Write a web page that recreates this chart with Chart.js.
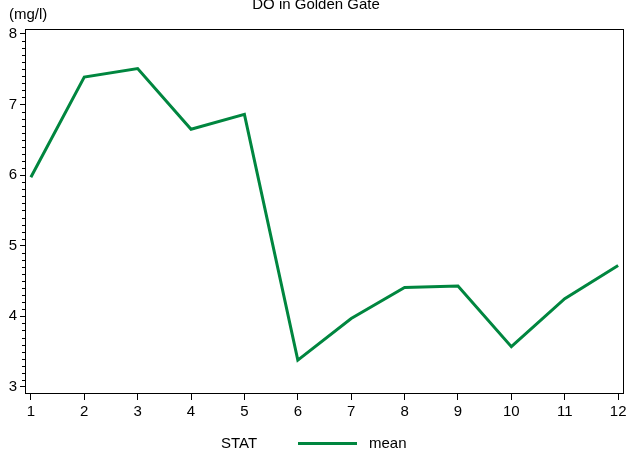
<!DOCTYPE html>
<html><head><meta charset="utf-8">
<script src="https://cdn.jsdelivr.net/npm/chart.js@4.4.1/dist/chart.umd.min.js"></script>
<style>html,body{margin:0;padding:0;background:#fff;overflow:hidden}</style>
</head><body>
<canvas id="c" width="627" height="454"></canvas>
<script>
const months = [1, 2, 3, 4, 5, 6, 7, 8, 9, 10, 11, 12];
const meanDO = [5.97, 7.39, 7.51, 6.65, 6.86, 3.38, 3.97, 4.41, 4.43, 3.57, 4.25, 4.72];
const yMajorTicks = [3, 4, 5, 6, 7, 8];
const titleText = 'DO in Golden Gate';
const yUnit = '(mg/l)';
const legendTitle = 'STAT';
const seriesName = 'mean';

const lineColor = '#00863F';
const FONT = '"Liberation Sans", Arial, sans-serif';
const FS = 15;

const overlay = {
  id: 'overlay',
  afterDraw(chart) {
    const { ctx, chartArea: a, scales: { y } } = chart;
    ctx.save();
    ctx.strokeStyle = '#000';
    ctx.lineWidth = 1;
    ctx.strokeRect(a.left + 0.5, a.top + 0.5, a.right - a.left - 1, a.bottom - a.top - 1);
    // minor y ticks
    for (let i = 0; i < yMajorTicks.length - 1; i++) {
      for (let k = 1; k < 10; k++) {
        const v = yMajorTicks[i] + k / 10;
        const py = Math.round(y.getPixelForValue(v)) + 0.5;
        ctx.beginPath();
        ctx.moveTo(a.left - 3, py);
        ctx.lineTo(a.left, py);
        ctx.stroke();
      }
    }
    ctx.fillStyle = '#000';
    ctx.font = FS + 'px ' + FONT;
    ctx.textBaseline = 'middle';
    ctx.textAlign = 'center';
    ctx.fillText(titleText, 316, 5);
    ctx.textAlign = 'left';
    ctx.fillText(yUnit, 9, 15);
    // legend
    ctx.fillText(legendTitle, 221, 444);
    ctx.fillText(seriesName, 369, 444);
    ctx.strokeStyle = lineColor;
    ctx.lineWidth = 3;
    ctx.beginPath();
    ctx.moveTo(298, 443.5);
    ctx.lineTo(357, 443.5);
    ctx.stroke();
    ctx.restore();
  }
};

new Chart(document.getElementById('c'), {
  type: 'line',
  data: {
    datasets: [{
      label: seriesName,
      data: months.map((m, i) => ({ x: m, y: meanDO[i] })),
      borderColor: lineColor,
      borderWidth: 3,
      pointRadius: 0,
      tension: 0,
      fill: false
    }]
  },
  options: {
    responsive: false,
    animation: false,
    devicePixelRatio: 1,
    layout: { padding: { top: 29, right: 3, left: 0, bottom: 0 } },
    plugins: { legend: { display: false }, title: { display: false }, tooltip: { enabled: false } },
    scales: {
      x: {
        type: 'linear',
        min: 0.89, max: 12.11,
        afterBuildTicks: s => { s.ticks = months.map(v => ({ value: v })); },
        afterFit: s => { s.height = 60; s.paddingLeft = 0; s.paddingRight = 0; },
        border: { display: false },
        grid: { drawOnChartArea: false, drawTicks: true, tickLength: 6, color: '#000' },
        ticks: { color: '#000', font: { family: FONT, size: FS }, padding: 3, maxRotation: 0, autoSkip: false }
      },
      y: {
        min: 2.9, max: 8.07,
        afterBuildTicks: s => { s.ticks = yMajorTicks.map(v => ({ value: v })); },
        afterFit: s => { s.width = 25; s.paddingTop = 0; s.paddingBottom = 0; },
        border: { display: false },
        grid: { drawOnChartArea: false, drawTicks: true, tickLength: 5, color: '#000' },
        ticks: { color: '#000', font: { family: FONT, size: FS }, padding: 3 }
      }
    }
  },
  plugins: [overlay]
});
</script>
</body></html>
